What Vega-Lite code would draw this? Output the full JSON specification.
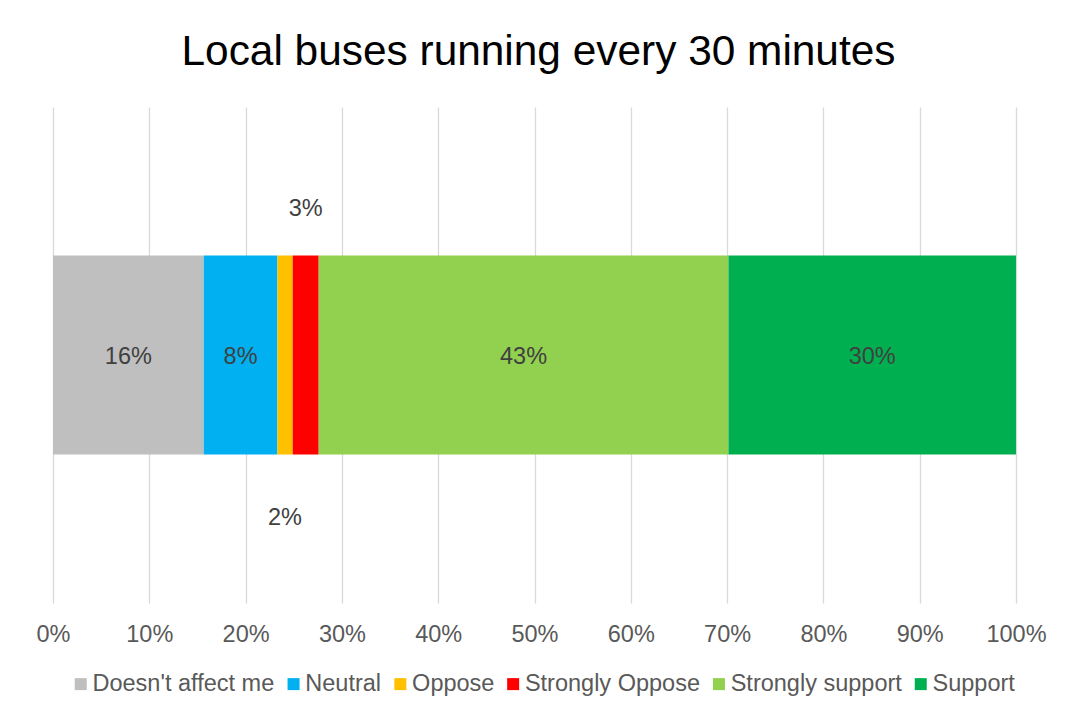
{
  "$schema": "https://vega.github.io/schema/vega-lite/v6.json",
  "width": 963,
  "height": 496,
  "autosize": {"type": "none"},
  "padding": {"left": 53, "top": 107, "right": 49, "bottom": 109},
  "background": "white",
  "config": {"view": {"stroke": null}, "font": "Liberation Sans"},
  "title": {
    "text": "Local buses running every 30 minutes",
    "font": "Liberation Sans",
    "fontSize": 42.4,
    "fontWeight": "normal",
    "color": "#000000",
    "anchor": "middle",
    "offset": 33,
    "dx": 4
  },
  "data": {
    "values": [
      {"question": "Local buses running every 30 minutes", "response": "Doesn't affect me", "share": 0.1565},
      {"question": "Local buses running every 30 minutes", "response": "Neutral", "share": 0.0765},
      {"question": "Local buses running every 30 minutes", "response": "Oppose", "share": 0.0159},
      {"question": "Local buses running every 30 minutes", "response": "Strongly Oppose", "share": 0.027},
      {"question": "Local buses running every 30 minutes", "response": "Strongly support", "share": 0.4255},
      {"question": "Local buses running every 30 minutes", "response": "Support", "share": 0.2986}
    ]
  },
  "transform": [
    {"stack": "share", "groupby": ["question"], "sort": [{"field": "response", "order": "ascending"}], "as": ["start", "end"]},
    {"calculate": "(datum.start + datum.end) / 2", "as": "mid"}
  ],
  "encoding": {
    "y": {"field": "question", "type": "nominal", "axis": null, "scale": {"paddingInner": 0.4275, "paddingOuter": 0.4275}}
  },
  "layer": [
    {
      "mark": {"type": "bar"},
      "encoding": {
        "x": {
          "field": "start",
          "type": "quantitative",
          "scale": {"domain": [0, 1], "nice": false, "zero": true},
          "axis": {
            "title": null,
            "format": ".0%",
            "values": [0, 0.1, 0.2, 0.3, 0.4, 0.5, 0.6, 0.7, 0.8, 0.9, 1],
            "grid": true,
            "gridColor": "#D9D9D9",
            "gridWidth": 1.3,
            "domain": false,
            "ticks": false,
            "tickSize": 0,
            "labelFont": "Liberation Sans",
            "labelFontSize": 23.5,
            "labelColor": "#595959",
            "labelPadding": 19,
            "labelFlush": false,
            "labelOverlap": false
          }
        },
        "x2": {"field": "end"},
        "color": {
          "field": "response",
          "type": "nominal",
          "scale": {
            "domain": ["Doesn't affect me", "Neutral", "Oppose", "Strongly Oppose", "Strongly support", "Support"],
            "range": ["#BFBFBF", "#00B0F0", "#FFC000", "#FF0000", "#92D050", "#00B050"]
          },
          "legend": {
            "title": null,
            "orient": "none",
            "legendX": 16,
            "legendY": 565,
            "direction": "horizontal",
            "symbolType": "square",
            "symbolSize": 144,
            "symbolStrokeWidth": 0,
            "symbolOpacity": 1,
            "labelFont": "Liberation Sans",
            "labelFontSize": 23.5,
            "labelColor": "#595959",
            "labelOffset": 0,
            "columnPadding": 6.8,
            "labelLimit": 400
          }
        }
      }
    },
    {
      "transform": [{"filter": "datum.share >= 0.05"}],
      "mark": {"type": "text", "font": "Liberation Sans", "fontSize": 23.5, "color": "#404040", "baseline": "middle", "align": "center", "dy": 2},
      "encoding": {
        "x": {"field": "mid", "type": "quantitative"},
        "text": {"field": "share", "type": "quantitative", "format": ".0%"}
      }
    },
    {
      "transform": [{"filter": "datum.response === 'Oppose'"}],
      "mark": {"type": "text", "font": "Liberation Sans", "fontSize": 23.5, "color": "#404040", "baseline": "middle", "align": "center", "dy": 162.5},
      "encoding": {
        "x": {"field": "mid", "type": "quantitative"},
        "text": {"field": "share", "type": "quantitative", "format": ".0%"}
      }
    },
    {
      "transform": [{"filter": "datum.response === 'Strongly Oppose'"}],
      "mark": {"type": "text", "font": "Liberation Sans", "fontSize": 23.5, "color": "#404040", "baseline": "middle", "align": "center", "dy": -146.5},
      "encoding": {
        "x": {"field": "mid", "type": "quantitative"},
        "text": {"field": "share", "type": "quantitative", "format": ".0%"}
      }
    }
  ]
}
